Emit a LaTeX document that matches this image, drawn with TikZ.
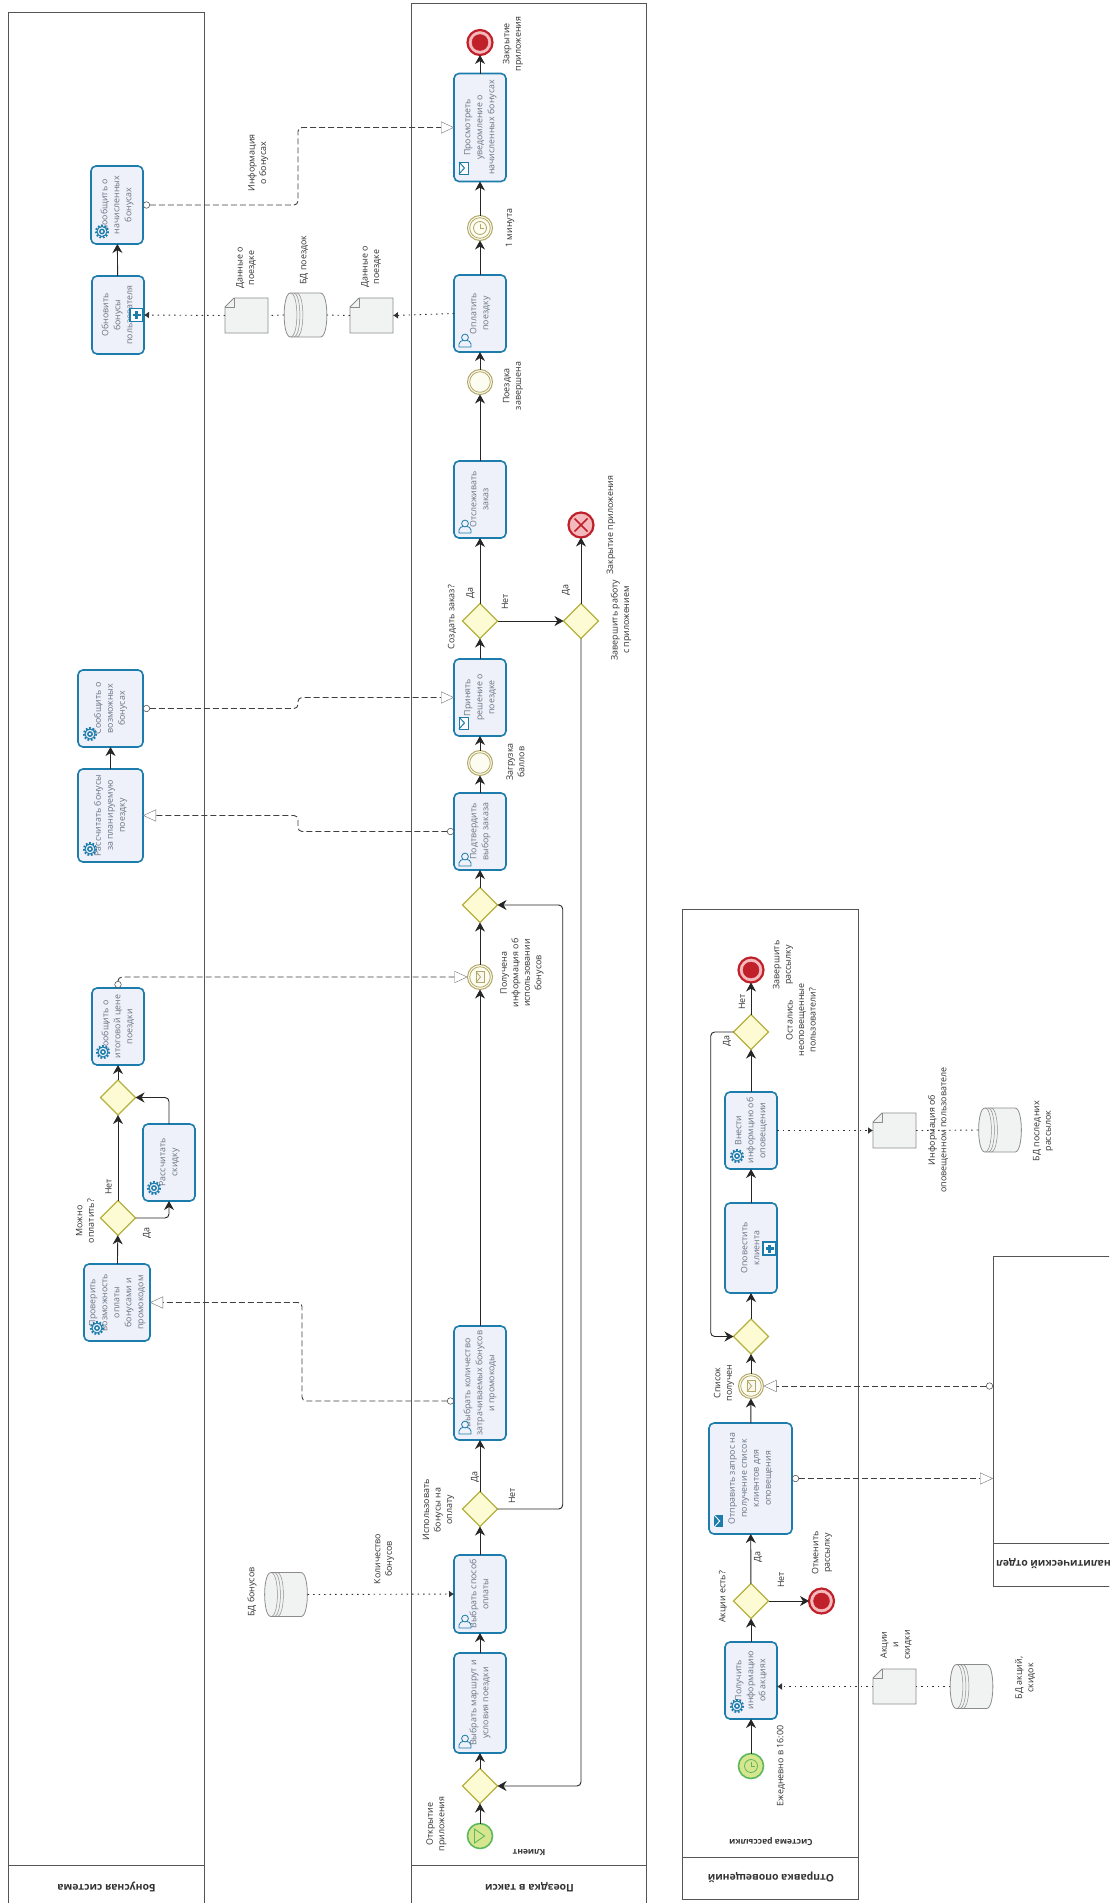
\documentclass[tikz,border=0pt]{standalone}
\usepackage{fontspec}
\setmainfont{Open Sans}
\usetikzlibrary{arrows.meta,shapes.geometric}
\definecolor{taskb}{HTML}{1C7CAB}
\definecolor{taskf}{HTML}{EEF1F9}
\definecolor{taskt}{HTML}{6A7484}
\definecolor{gateb}{HTML}{B5B13E}
\definecolor{gatef}{HTML}{FCFBD4}
\definecolor{intb}{HTML}{B3A868}
\definecolor{intf}{HTML}{FDFCF1}
\definecolor{startb}{HTML}{5CB85C}
\definecolor{startf}{HTML}{D6E68F}
\definecolor{endb}{HTML}{C0202A}
\definecolor{endf}{HTML}{F3B9BC}
\definecolor{lblc}{HTML}{333333}
\definecolor{laneb}{HTML}{555555}
\definecolor{docb}{HTML}{8C8C8C}
\definecolor{docf}{HTML}{F1F3F2}
\newcommand{\rt}[1]{\rotatebox[origin=c]{90}{\begin{tabular}{@{}c@{}}#1\end{tabular}}}
\tikzset{
  lanebox/.style={draw=laneb,line width=1pt,fill=white,inner sep=0,outer sep=0},
  lanetitle/.style={rotate=180,font=\fontsize{10.4}{12}\selectfont\bfseries,text=lblc,inner sep=0},
  lanesub/.style={rotate=180,font=\fontsize{8.5}{10}\selectfont\bfseries,text=lblc,inner sep=0},
  task/.style={draw=taskb,fill=taskf,line width=1.6pt,rounded corners=5pt,inner sep=0,outer sep=0,
     text=taskt,font=\fontsize{8.8}{12}\selectfont},
  gate/.style={diamond,draw=gateb,fill=gatef,line width=1.3pt,minimum width=35,minimum height=35,inner sep=0,outer sep=0},
  evt/.style={circle,minimum size=25,inner sep=0,outer sep=0},
  intevt/.style={evt,draw=intb,fill=intf,line width=1pt},
  startevt/.style={evt,draw=startb,fill=startf,line width=1.6pt},
  endevt/.style={evt,draw=endb,fill=endf,line width=2.2pt},
  lbl/.style={rotate=90,align=center,text=lblc,inner sep=0,font=\fontsize{8.9}{11.5}\selectfont},
  sf/.style={draw=black!85,line width=0.9pt,rounded corners=4pt,-{Stealth[length=9pt,width=10pt]}},
  mf/.style={draw=black!75,line width=0.9pt,rounded corners=4pt,dash pattern=on 6pt off 3pt,
     {Circle[open,fill=white,length=7pt,width=7pt,line width=0.5pt]}-{Triangle[open,fill=white,color=black!55,length=13pt,width=12pt,line width=0.4pt]}},
  df/.style={draw=black!80,line width=0.9pt,dash pattern=on 1.5pt off 4pt,-{Latex[length=5pt,width=7pt]}},
  dl/.style={draw=black!80,line width=0.9pt,dash pattern=on 1.5pt off 4pt},
  shp/.style={inner sep=0,outer sep=0},
  dshape/.style={draw=docb,fill=docf,line width=0.8pt},
  dthin/.style={draw=docb,line width=0.5pt},
  ico/.style={draw=taskb,line width=0.8pt},
  mk/.style={draw=taskb,fill=white,line width=1.4pt,inner sep=0,outer sep=0,minimum size=13}
}
\newcommand{\docshape}[3]{\begin{scope}[shift={(#2,#3)}]
 \node[shp,minimum width=43,minimum height=35] (#1) at (0,0) {};
 \path[dshape] (-12.5,-17.5) -- (21.5,-17.5) -- (21.5,17.5) -- (-21.5,17.5) -- (-21.5,-8.5) -- cycle;
 \draw[dthin] (-12.5,-17.5) -- (-12.5,-8.5) -- (-21.5,-8.5);
\end{scope}}
\newcommand{\dbshape}[3]{\begin{scope}[shift={(#2,#3)}]
 \node[shp,minimum width=43,minimum height=44] (#1) at (0,0) {};
 \path[dshape] (-15,-22) -- (15,-22) .. controls (23.5,-22) and (23.5,22) .. (15,22) -- (-15,22)
   .. controls (-23.5,22) and (-23.5,-22) .. (-15,-22) -- cycle;
 \draw[dthin] (-15,-22) .. controls (-6.5,-22) and (-6.5,22) .. (-15,22);
 \draw[dthin] (-12,-22) .. controls (-3.5,-22) and (-3.5,22) .. (-12,22);
 \draw[dthin] (-9,-22) .. controls (-0.5,-22) and (-0.5,22) .. (-9,22);
\end{scope}}
\newcommand{\gearicon}[2]{\begin{scope}[shift={(#1,#2)}]
 \draw[ico,line width=2pt,dash pattern=on 1.7pt off 1.7pt] (0,0) circle (6);
 \draw[ico,fill=taskf,line width=1pt] (0,0) circle (5);
 \draw[ico,line width=1.4pt] (0,0) circle (2.2);
\end{scope}}
\newcommand{\usericon}[2]{\begin{scope}[shift={(#1,#2)}]
 \draw[ico,fill=taskf] (-6,6) -- (-6,3) .. controls (-6,0) and (-3,0) .. (-2,-0.5)
   -- (2,-0.5) .. controls (3,0) and (6,0) .. (6,3) -- (6,6) -- cycle;
 \draw[ico,fill=taskf] (0,-3.5) circle (3.4);
\end{scope}}
\newcommand{\envicon}[2]{\begin{scope}[shift={(#1,#2)}]
 \draw[ico,fill=white,line width=1pt] (-4.5,-6) rectangle (4.5,6);
 \draw[ico,line width=1pt] (-4.5,-6) -- (1,0) -- (-4.5,6);
\end{scope}}
\newcommand{\sendicon}[2]{\begin{scope}[shift={(#1,#2)}]
 \fill[taskb] (-4.5,-6) rectangle (4.5,6);
 \draw[white,line width=0.9pt] (-4.5,-6) -- (1,0) -- (-4.5,6);
\end{scope}}
\newcommand{\clockicon}[3]{\begin{scope}[shift={(#1,#2)}]
 \draw[draw=#3,line width=0.8pt] (0,0) circle (6.5);
 \draw[draw=#3,line width=0.8pt] (0,-4.5) -- (0,0) -- (3.5,0);
\end{scope}}
\newcommand{\msgevent}[2]{\begin{scope}[shift={(#1,#2)}]
 \draw[draw=intb,line width=1pt,fill=white!90!intb] (-4,-5.5) rectangle (4,5.5);
 \draw[draw=intb,line width=0.8pt] (-4,-5.5) -- (0.5,0) -- (-4,5.5);
\end{scope}}
\begin{document}
\begin{tikzpicture}[x=1pt,y=-1pt]
\useasboundingbox (0,0) rectangle (1109,1903);
\clip (0,0) rectangle (1109,1903);
% lanes
\node[lanebox,minimum width=195.6,minimum height=1903] (lanea) at (106.2,963.5) {};
\node[lanebox,minimum width=195.6,minimum height=50] (laneat) at (106.2,1890) {};
\node[lanebox,minimum width=235.5,minimum height=1912] (laneb) at (528.75,959) {};
\node[lanebox,minimum width=235.5,minimum height=50] (lanebt) at (528.75,1890) {};
\node[lanebox,minimum width=176,minimum height=990] (lanec) at (770,1404) {};
\node[lanebox,minimum width=176,minimum height=42] (lanect) at (770,1878) {};
\node[lanebox,minimum width=200,minimum height=330] (an) at (1093,1421) {};
\node[lanebox,minimum width=200,minimum height=43] (ant) at (1093,1564.5) {};
\node[lanetitle] (tta) at (106.5,1887) {Бонусная система};
\node[lanetitle] (ttb) at (529.5,1887) {Поездка в такси};
\node[lanetitle] (ttc) at (771,1877) {Отправка оповещений};
\node[lanetitle,anchor=east] (ttd) at (996,1563.5) {Аналитический отдел};
\node[lanesub] (tsb) at (529,1852.5) {Клиент};
\node[lanesub] (tsc) at (771,1842) {Система рассылки};

% lane 2 tasks
\node[task,minimum width=52,minimum height=108] (view) at (480,127.5) {\rt{Просмотреть\\уведомление о\\начисленных бонусах}};
\node[task,minimum width=52,minimum height=77] (pay) at (480,313.5) {\rt{Оплатить\\поездку}};
\node[task,minimum width=52,minimum height=77] (track) at (480,499.5) {\rt{Отслеживать\\заказ}};
\node[task,minimum width=52,minimum height=77] (decide) at (480,697.5) {\rt{Принять\\решение о\\поездке}};
\node[task,minimum width=52,minimum height=77] (confirm) at (480,831.5) {\rt{Подтвердить\\выбор заказа}};
\node[task,minimum width=52,minimum height=114] (amount) at (480,1383) {\rt{Выбрать количество\\затрачиваемых бонусов\\и промокоды}};
\node[task,minimum width=52,minimum height=78] (method) at (480,1594) {\rt{Выбрать способ\\оплаты}};
\node[task,minimum width=52,minimum height=100] (route) at (480,1703) {\rt{Выбрать маршрут и\\условия поездки}};
% lane 2 events, gateways
\node[endevt] (endA) at (480,42.5) {};
\node[intevt] (timerA) at (480,228) {};
\node[intevt] (doneA) at (480,382) {};
\node[gate] (gCreate) at (480,621) {};
\node[gate] (gQuit) at (581,621) {};
\node[endevt] (errA) at (581,525) {};
\node[intevt] (loadA) at (480,763) {};
\node[gate] (gMerge) at (480,905) {};
\node[intevt] (msgA) at (480,977) {};
\node[gate] (gUse) at (480,1509) {};
\node[gate] (gStart) at (480,1786) {};
\node[startevt] (startA) at (480,1836) {};
% lane 1
\node[task,minimum width=52,minimum height=78] (notifyB) at (117,205) {\rt{Сообщить о\\начисленных\\бонусах}};
\node[task,minimum width=52,minimum height=78] (updB) at (118,315) {\rt{Обновить\\бонусы\\пользователя}};
\node[task,minimum width=65,minimum height=77] (possB) at (110.5,708.5) {\rt{Сообщить о\\возможных\\бонусах}};
\node[task,minimum width=65,minimum height=93] (calcB) at (110.5,815.5) {\rt{Рассчитать бонусы\\за планируемую\\поездку}};
\node[task,minimum width=52,minimum height=77] (finalB) at (118,1026.5) {\rt{Сообщить о\\итоговой цене\\поездки}};
\node[gate] (gDisc) at (118,1097.5) {};
\node[task,minimum width=52,minimum height=77] (disc) at (169,1162.5) {\rt{Рассчитать\\скидку}};
\node[gate] (gCan) at (118,1218) {};
\node[task,minimum width=66,minimum height=77] (check) at (117,1302.5) {\rt{Проверить\\возможность\\оплаты\\бонусами и\\промокодом}};
% lane 3
\node[endevt] (endC) at (751,970) {};
\node[gate] (gLeft) at (751,1032) {};
\node[task,minimum width=52,minimum height=77] (store) at (751,1130.5) {\rt{Внести\\информцию об\\оповещении}};
\node[task,minimum width=52,minimum height=90] (inform) at (751,1248) {\rt{Оповестить\\клиента}};
\node[gate] (gLoop) at (751,1336.5) {};
\node[intevt] (msgC) at (751,1386) {};
\node[task,minimum width=83,minimum height=111] (send) at (750.5,1478.5) {\rt{Отправить запрос на\\получение список\\клиентов для\\оповещения}};
\node[gate] (gPromo) at (751,1601) {};
\node[endevt] (endD) at (821.5,1601) {};
\node[task,minimum width=52,minimum height=77] (getp) at (751,1680.5) {\rt{Получить\\информацию\\об акциях}};
\node[startevt] (startC) at (751,1766) {};
% data
\docshape{docL}{246.5}{315.5}
\dbshape{dbT}{305.5}{315}
\docshape{docR}{371.5}{315.5}
\dbshape{dbB}{286}{1594.5}
\docshape{docU}{894.5}{1130.5}
\dbshape{dbU}{1000}{1130}
\docshape{docP}{894.5}{1686.5}
\dbshape{dbP}{971.5}{1686.5}
% event decorations
\draw[endb,fill=endb] (endA.center) circle (8);
\draw[endb,fill=endb] (endC.center) circle (8);
\draw[endb,fill=endb] (endD.center) circle (8);
\draw[intb,line width=0.8pt] (timerA.center) circle (10.3);
\clockicon{480}{228}{intb}
\draw[intb,line width=0.8pt] (doneA.center) circle (10.3);
\draw[intb,line width=0.8pt] (loadA.center) circle (10.3);
\draw[intb,line width=0.8pt] (msgA.center) circle (10.3);
\msgevent{480}{977}
\draw[intb,line width=0.8pt] (msgC.center) circle (10.3);
\msgevent{751}{1386}
\draw[endb,line width=1.6pt] (574.5,518.5) -- (587.5,531.5) (587.5,518.5) -- (574.5,531.5);
\draw[startb,line width=0.9pt] (484.5,1836) -- (474.5,1829) -- (474.5,1843) -- cycle;
\clockicon{751}{1766}{startb}
% task markers
\usericon{465}{341}
\usericon{465}{527}
\usericon{465}{860}
\usericon{465}{1428}
\usericon{465}{1622}
\usericon{465}{1742}
\gearicon{102}{231.5}
\gearicon{90}{734}
\gearicon{90}{849}
\gearicon{103}{1052}
\gearicon{154}{1188}
\gearicon{97}{1328}
\gearicon{737}{1156}
\gearicon{737}{1706}
\envicon{463.5}{168}
\envicon{463.5}{723}
\sendicon{718.7}{1521}
\node[mk] (plusA) at (136.5,315) {};
\draw[taskb,line width=2.4pt] (132.5,315) -- (140.5,315) (136.5,311) -- (136.5,319);
\node[mk] (plusB) at (769.5,1248.5) {};
\draw[taskb,line width=2.4pt] (765.5,1248.5) -- (773.5,1248.5) (769.5,1244.5) -- (769.5,1252.5);

% sequence flows lane 2
\draw[sf] (startA) -- (gStart);
\draw[sf] (gStart) -- (route);
\draw[sf] (route) -- (method);
\draw[sf] (method) -- (gUse);
\draw[sf] (gUse) -- (amount);
\draw[sf] (amount) -- (msgA);
\draw[sf] (msgA) -- (gMerge);
\draw[sf] (gMerge) -- (confirm);
\draw[sf] (confirm) -- (loadA);
\draw[sf] (loadA) -- (decide);
\draw[sf] (decide) -- (gCreate);
\draw[sf] (gCreate) -- (track);
\draw[sf] (track) -- (doneA);
\draw[sf] (doneA) -- (pay);
\draw[sf] (pay) -- (timerA);
\draw[sf] (timerA) -- (view);
\draw[sf] (view) -- (endA);
\draw[sf] (gCreate) -- (gQuit);
\draw[sf] (gQuit) -- (errA);
\draw[sf] (gQuit.south) -- (gQuit.south |- gStart.east) -- (gStart.east);
\draw[sf] (gUse.east) -- (562.7,1509) -- (562.7,905) -- (gMerge.east);
% lane 1
\draw[sf] (updB) -- (notifyB);
\draw[sf] (calcB) -- (possB);
\draw[sf] (check) -- (gCan);
\draw[sf] (gCan) -- (gDisc);
\draw[sf] (gDisc) -- (finalB);
\draw[sf] (gCan.east) -- (disc.south |- gCan.east) -- (disc.south);
\draw[sf] (disc.north) -- (disc.north |- gDisc.east) -- (gDisc.east);
% lane 3
\draw[sf] (startC) -- (getp);
\draw[sf] (getp) -- (gPromo);
\draw[sf] (gPromo) -- (send);
\draw[sf] (gPromo) -- (endD);
\draw[sf] (send) -- (msgC);
\draw[sf] (msgC) -- (gLoop);
\draw[sf] (gLoop) -- (inform);
\draw[sf] (inform) -- (store);
\draw[sf] (store) -- (gLeft);
\draw[sf] (gLeft) -- (endC);
\draw[sf] (gLeft.west) -- (710.7,1032) -- (710.7,1336.5) -- (gLoop.west);
% message flows
\draw[mf] (notifyB.east) -- (298,205) -- (298,127.5) -- (view.west);
\draw[mf] (possB.east) -- (298,708.5) -- (298,697.5) -- (decide.west);
\draw[mf] (confirm.west) -- (298,831.5) -- (298,815.5) -- (calcB.east);
\draw[mf] (finalB.north) -- (finalB.north |- msgA.west) -- (msgA.west);
\draw[mf] ([yshift=-18pt]amount.west) -- (302,1401) -- (302,1302.5) -- (check.east);
\draw[mf] (an.west |- msgC.east) -- (msgC.east);
\draw[mf] (send.east) -- (an.west |- send.east);
% data flows
\draw[df] (pay.west) -- (docR.east);
\draw[dl] (docR.west) -- (dbT.east);
\draw[dl] (dbT.west) -- (docL.east);
\draw[df] (docL.west) -- (updB.east);
\draw[df] (dbB.east) -- (method.west);
\draw[df] (store.east) -- (docU.west);
\draw[dl] (docU.east) -- (dbU.west);
\draw[dl] (dbP.west) -- (docP.east);
\draw[df] (docP.west) -- ([yshift=-6pt]getp.east);

% labels lane 2
\node[lbl] (l01) at (513,44) {Закрытие\\приложения};
\node[lbl] (l02) at (258,163) {Информация\\о бонусах};
\node[lbl] (l03) at (510,228) {1 минута};
\node[lbl] (l04) at (246,268) {Данные о\\поездке};
\node[lbl] (l05) at (371,267) {Данные о\\поездке};
\node[lbl] (l06) at (304,260) {БД поездок};
\node[lbl] (l07) at (513,386) {Поездка\\завершена};
\node[lbl] (l08) at (611,525) {Закрытие приложения};
\node[lbl] (l09) at (470.5,593) {Да};
\node[lbl] (l10) at (505,602) {Нет};
\node[lbl] (l11) at (566,590) {Да};
\node[lbl] (l12) at (452,617) {Создать заказ?};
\node[lbl] (l13) at (621,620) {Завершить работу\\с приложением};
\node[lbl] (l14) at (515.5,762) {Загрузка\\баллов};
\node[lbl] (l15) at (522,973) {Получена\\информация об\\использовании\\бонусов};
\node[lbl] (l16) at (85,1221) {Можно\\оплатить?};
\node[lbl] (l17) at (108.5,1187) {Нет};
\node[lbl] (l18) at (147,1233) {Да};
\node[lbl] (l19) at (438.5,1510) {Использовать\\бонусы на\\оплату};
\node[lbl] (l20) at (475,1477) {Да};
\node[lbl] (l21) at (512,1496) {Нет};
\node[lbl] (l22) at (384,1559) {Количество\\бонусов};
\node[lbl] (l23) at (252,1592) {БД бонусов};
\node[lbl] (l24) at (436.5,1824) {Открытие\\приложения};
% labels lane 3
\node[lbl] (l25) at (783,965) {Завершить\\рассылку};
\node[lbl] (l26) at (801,1020) {Остались\\неоповещенные\\пользователи?};
\node[lbl] (l27) at (742,1002) {Нет};
\node[lbl] (l28) at (727,1041) {Да};
\node[lbl] (l29) at (724,1383) {Список\\получен};
\node[lbl] (l30) at (938,1130) {Информация об\\оповещенном пользователе};
\node[lbl] (l31) at (1043,1131) {БД последних\\рассылок};
\node[lbl] (l32) at (758,1557) {Да};
\node[lbl] (l33) at (781,1580) {Нет};
\node[lbl] (l34) at (723,1597) {Акции есть?};
\node[lbl] (l35) at (822,1553) {Отменить\\рассылку};
\node[lbl] (l36) at (896,1645) {Акции\\и\\скидки};
\node[lbl] (l37) at (1025,1678) {БД акций,\\скидок};
\node[lbl] (l38) at (781,1766) {Ежедневно в 16:00};
\end{tikzpicture}
\end{document}
